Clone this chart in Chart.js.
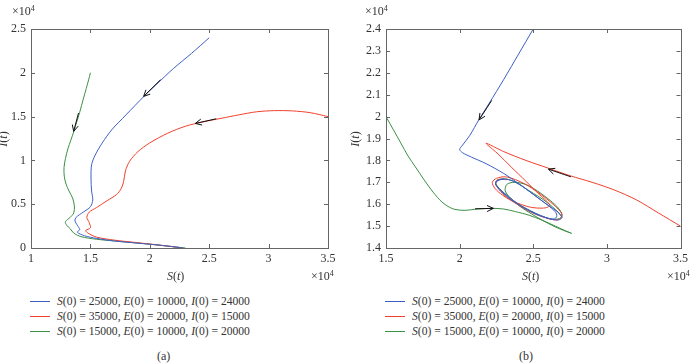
<!DOCTYPE html>
<html>
<head>
<meta charset="utf-8">
<script src="https://cdn.jsdelivr.net/npm/chart.js@4.4.1/dist/chart.umd.min.js"></script>
<style>
  body { margin: 0; background: #fff; width: 692px; height: 363px; position: relative; overflow: hidden;
         font-family: "Liberation Serif", "Times New Roman", serif; color: #333; }
  canvas { position: absolute; top: 0; }
  .lbl { position: absolute; font-size: 12px; white-space: nowrap; line-height: 1; }
  .lbl sup { font-size: 8px; vertical-align: 4px; }
  .leg { position: absolute; font-size: 11.6px; }
  .row { height: 15px; display: flex; align-items: center; white-space: nowrap; }
  .sw { width: 20px; height: 1px; margin-right: 7px; }
</style>
</head>
<body>
<canvas id="chartA" width="346" height="270" style="left:0"></canvas>
<canvas id="chartB" width="346" height="270" style="left:346px"></canvas>

<span class="lbl" style="left:12px;top:5px">&times;10<sup>4</sup></span>
<span class="lbl" style="left:365px;top:5px">&times;10<sup>4</sup></span>
<span class="lbl" style="left:167px;top:270px"><i>S</i>(<i>t</i>)</span>
<span class="lbl" style="left:522px;top:270px"><i>S</i>(<i>t</i>)</span>
<span class="lbl" style="left:311px;top:270px">&times;10<sup>4</sup></span>
<span class="lbl" style="left:667px;top:270px">&times;10<sup>4</sup></span>
<span class="lbl" style="left:-5px;top:133px;transform:rotate(-90deg)"><i>I</i>(<i>t</i>)</span>
<span class="lbl" style="left:347px;top:133px;transform:rotate(-90deg)"><i>I</i>(<i>t</i>)</span>
<div class="leg" id="legA" style="left:30px;top:294px"></div>
<div class="leg" id="legB" style="left:385px;top:294px"></div>
<span class="lbl" style="left:157px;top:350px">(a)</span>
<span class="lbl" style="left:519px;top:350px">(b)</span>

<script>
// initial values of each run (legend)
const initS = [25000, 35000, 15000];
const initE = [10000, 20000, 10000];
const initI = [24000, 15000, 20000];
const colors = ['#3d5fc4', '#f0402c', '#3a8f45'];

// panel (a), values in units of 10^4
const blueA_S = [2.50, 2.35, 2.20, 2.05, 1.95, 1.80, 1.68, 1.60, 1.54, 1.51, 1.505, 1.51, 1.52, 1.50, 1.44, 1.38, 1.37, 1.39, 1.41, 1.39, 1.45, 1.55, 1.70, 1.90, 2.10, 2.28];
const blueA_I = [2.40, 2.22, 2.05, 1.86, 1.73, 1.52, 1.35, 1.20, 1.06, 0.95, 0.80, 0.65, 0.55, 0.47, 0.41, 0.35, 0.31, 0.26, 0.21, 0.18, 0.14, 0.11, 0.08, 0.055, 0.03, 0.0];
const redA_S = [3.50, 3.35, 3.20, 3.05, 2.90, 2.75, 2.60, 2.45, 2.30, 2.15, 2.00, 1.90, 1.83, 1.795, 1.78, 1.76, 1.72, 1.64, 1.55, 1.49, 1.47, 1.49, 1.50, 1.46, 1.48, 1.55, 1.70, 1.90, 2.10, 2.28];
const redA_I = [1.50, 1.545, 1.565, 1.568, 1.555, 1.52, 1.48, 1.44, 1.39, 1.31, 1.20, 1.10, 0.99, 0.88, 0.76, 0.68, 0.61, 0.54, 0.46, 0.41, 0.35, 0.29, 0.23, 0.20, 0.17, 0.125, 0.09, 0.06, 0.03, 0.0];
const greenA_S = [1.50, 1.485, 1.465, 1.44, 1.41, 1.385, 1.36, 1.335, 1.31, 1.29, 1.278, 1.28, 1.295, 1.32, 1.35, 1.365, 1.36, 1.33, 1.29, 1.30, 1.33, 1.36, 1.42, 1.55, 1.75, 1.95, 2.15, 2.30];
const greenA_I = [2.00, 1.92, 1.82, 1.70, 1.55, 1.44, 1.33, 1.23, 1.13, 1.02, 0.92, 0.82, 0.73, 0.65, 0.57, 0.48, 0.40, 0.35, 0.30, 0.26, 0.22, 0.17, 0.13, 0.10, 0.075, 0.05, 0.022, 0.0];

// panel (b)
const blueB_S = [2.50, 2.40, 2.30, 2.20, 2.13, 2.07, 2.02, 2.00, 2.02, 2.08, 2.18, 2.30, 2.42, 2.52, 2.60, 2.65, 2.66, 2.64,
    2.58, 2.50, 2.42, 2.34, 2.28, 2.245, 2.26, 2.30, 2.36, 2.42, 2.47, 2.53, 2.58, 2.64, 2.68, 2.695, 2.67, 2.62, 2.55, 2.48, 2.40, 2.33, 2.28, 2.245, 2.25, 2.30];
const blueB_I = [2.40, 2.285, 2.17, 2.06, 1.985, 1.915, 1.87, 1.85, 1.835, 1.815, 1.785, 1.74, 1.685, 1.635, 1.595, 1.565, 1.545, 1.532,
    1.54, 1.56, 1.59, 1.625, 1.66, 1.69, 1.708, 1.715, 1.706, 1.685, 1.66, 1.63, 1.605, 1.578, 1.555, 1.538, 1.528, 1.532, 1.548, 1.57, 1.60, 1.635, 1.665, 1.69, 1.706, 1.715];
const redB_S = [3.50, 3.35, 3.20, 3.05, 2.90, 2.75, 2.60, 2.45, 2.30, 2.18, 2.26, 2.35, 2.45, 2.54, 2.61, 2.60, 2.56, 2.49, 2.42, 2.35, 2.29,
    2.24, 2.222, 2.25, 2.31, 2.38, 2.45, 2.52, 2.59, 2.65, 2.69, 2.695, 2.66, 2.60, 2.53, 2.46, 2.39, 2.32, 2.27, 2.245, 2.26, 2.32];
const redB_I = [1.50, 1.56, 1.62, 1.665, 1.70, 1.73, 1.765, 1.80, 1.84, 1.878, 1.83, 1.77, 1.705, 1.645, 1.60, 1.587, 1.582, 1.585, 1.598, 1.617, 1.642,
    1.672, 1.70, 1.718, 1.725, 1.712, 1.69, 1.66, 1.625, 1.59, 1.56, 1.54, 1.528, 1.535, 1.55, 1.572, 1.60, 1.632, 1.665, 1.695, 1.712, 1.712];
const greenB_S = [1.50, 1.55, 1.60, 1.65, 1.70, 1.76, 1.82, 1.88, 1.95, 2.03, 2.12, 2.22, 2.30, 2.38, 2.47, 2.56, 2.65, 2.72, 2.76, 2.74, 2.67, 2.58, 2.49, 2.41, 2.35,
    2.31, 2.32, 2.37, 2.45, 2.53, 2.60, 2.66, 2.695, 2.68, 2.62, 2.55, 2.48, 2.40, 2.33, 2.28, 2.245, 2.26, 2.32, 2.38, 2.44, 2.50, 2.57, 2.63, 2.675, 2.69];
const greenB_I = [2.00, 1.94, 1.88, 1.82, 1.77, 1.71, 1.655, 1.61, 1.58, 1.572, 1.578, 1.581, 1.578, 1.566, 1.55, 1.527, 1.50, 1.478, 1.467, 1.472, 1.49, 1.52, 1.555, 1.59, 1.625,
    1.66, 1.69, 1.70, 1.69, 1.66, 1.625, 1.59, 1.555, 1.535, 1.532, 1.548, 1.57, 1.60, 1.635, 1.665, 1.695, 1.712, 1.715, 1.70, 1.675, 1.65, 1.62, 1.588, 1.56, 1.545];

// direction arrows: [tailS, tailI, headS, headI]
const arrowsA = [[2.09, 1.92, 1.948, 1.731], [2.56, 1.475, 2.383, 1.422], [1.40, 1.541, 1.359, 1.331]];
const arrowsB = [[2.218, 2.074, 2.132, 1.985], [2.756, 1.725, 2.603, 1.76], [2.105, 1.579, 2.229, 1.581]];

function pts(s, i) {
    let out = [];
    for (let k = 0; k < s.length; k++) out.push({x: s[k], y: i[k]});
    return out;
}

function line(s, i, c) {
    return {data: pts(s, i), borderColor: c, borderWidth: 1, showLine: true, pointRadius: 0, tension: 0.3, fill: false};
}

const tickFont = {family: '"Liberation Serif", "Times New Roman", serif', size: 12};

// MATLAB style box with inward ticks, and arrows on the curves
const boxPlugin = {
    id: 'box',
    afterDatasetsDraw(chart, args, opts) {
        const ctx = chart.ctx;
        const a = chart.chartArea;
        const sx = chart.scales.x, sy = chart.scales.y;
        ctx.save();
        ctx.strokeStyle = '#666';
        ctx.lineWidth = 1;
        ctx.strokeRect(Math.round(a.left) + 0.5, Math.round(a.top) + 0.5, Math.round(a.right - a.left), Math.round(a.bottom - a.top));
        ctx.beginPath();
        sx.ticks.forEach(t => {
            const x = Math.round(sx.getPixelForValue(t.value)) + 0.5;
            ctx.moveTo(x, a.bottom); ctx.lineTo(x, a.bottom - 4);
            ctx.moveTo(x, a.top); ctx.lineTo(x, a.top + 4);
        });
        sy.ticks.forEach(t => {
            const y = Math.round(sy.getPixelForValue(t.value)) + 0.5;
            ctx.moveTo(a.left, y); ctx.lineTo(a.left + 4, y);
            ctx.moveTo(a.right, y); ctx.lineTo(a.right - 4, y);
        });
        ctx.stroke();

        ctx.strokeStyle = '#111';
        opts.arrows.forEach(ar => {
            const x0 = sx.getPixelForValue(ar[0]), y0 = sy.getPixelForValue(ar[1]);
            const x1 = sx.getPixelForValue(ar[2]), y1 = sy.getPixelForValue(ar[3]);
            const ang = Math.atan2(y1 - y0, x1 - x0);
            ctx.beginPath();
            ctx.moveTo(x0, y0); ctx.lineTo(x1, y1);
            ctx.moveTo(x1 - 7 * Math.cos(ang - 0.45), y1 - 7 * Math.sin(ang - 0.45));
            ctx.lineTo(x1, y1);
            ctx.lineTo(x1 - 7 * Math.cos(ang + 0.45), y1 - 7 * Math.sin(ang + 0.45));
            ctx.stroke();
        });
        ctx.restore();
    }
};

function makeChart(id, sets, xr, yr, yStep, yWidth, padRight, arrows) {
    return new Chart(document.getElementById(id), {
        type: 'scatter',
        data: {datasets: sets},
        options: {
            responsive: false,
            animation: false,
            devicePixelRatio: 1,
            layout: {padding: {top: 29, right: padRight, left: 0, bottom: 0}},
            plugins: {legend: {display: false}, tooltip: {enabled: false}, box: {arrows: arrows}},
            scales: {
                x: {
                    type: 'linear', min: xr[0], max: xr[1],
                    grid: {display: false, drawTicks: false},
                    border: {display: false},
                    ticks: {stepSize: 0.5, padding: 4, font: tickFont, color: '#333', maxRotation: 0,
                        callback: v => String(+v.toFixed(1))},
                    afterFit: s => { s.height = 22; }
                },
                y: {
                    type: 'linear', min: yr[0], max: yr[1],
                    grid: {display: false, drawTicks: false},
                    border: {display: false},
                    ticks: {stepSize: yStep, padding: 5, font: tickFont, color: '#333',
                        callback: v => String(+v.toFixed(1))},
                    afterFit: s => { s.width = yWidth; }
                }
            }
        },
        plugins: [boxPlugin]
    });
}

makeChart('chartA', [
    line(blueA_S, blueA_I, colors[0]),
    line(redA_S, redA_I, colors[1]),
    line(greenA_S, greenA_I, colors[2])
], [1, 3.5], [0, 2.5], 0.5, 31, 18, arrowsA);

makeChart('chartB', [
    line(blueB_S, blueB_I, colors[0]),
    line(redB_S, redB_I, colors[1]),
    line(greenB_S, greenB_I, colors[2])
], [1.5, 3.5], [1.4, 2.4], 0.1, 40, 9, arrowsB);

// legends under each panel
['legA', 'legB'].forEach(id => {
    const el = document.getElementById(id);
    for (let k = 0; k < initS.length; k++) {
        const row = document.createElement('div');
        row.className = 'row';
        row.innerHTML = '<span class="sw" style="background:' + colors[k] + '"></span>' +
            '<span><i>S</i>(0) = ' + initS[k] + ', <i>E</i>(0) = ' + initE[k] + ', <i>I</i>(0) = ' + initI[k] + '</span>';
        el.appendChild(row);
    }
});
</script>
</body>
</html>
